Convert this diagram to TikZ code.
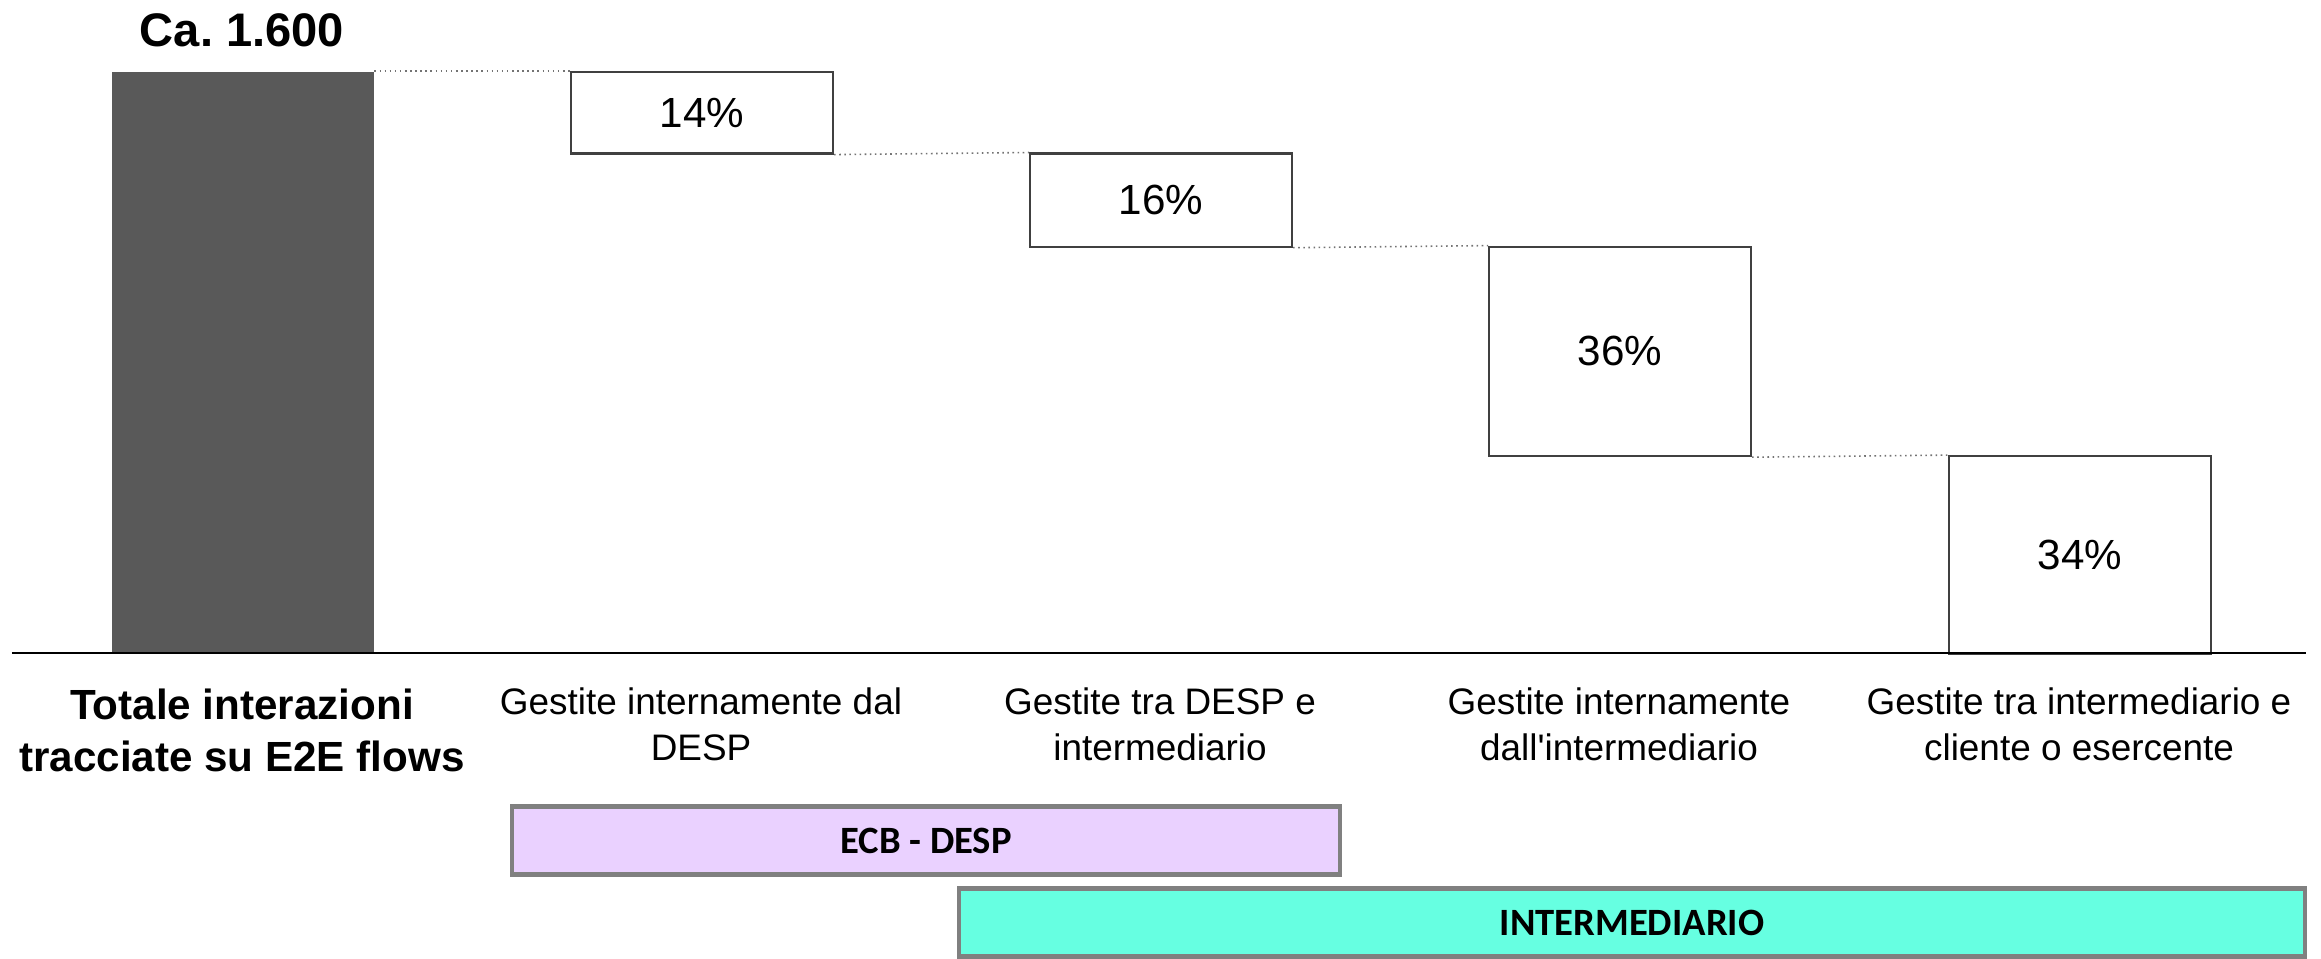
\documentclass[tikz,border=0pt]{standalone}
\usepackage{fontspec}
\setmainfont{Liberation Sans}[Ligatures=TeXOff]
\newfontfamily\carlito{Carlito}
\usepackage{tikz}
\usetikzlibrary{positioning}
\definecolor{barra}{HTML}{595959}
\definecolor{lilla}{HTML}{EAD1FF}
\definecolor{acqua}{HTML}{66FFE1}
\definecolor{bordo}{HTML}{808080}

\begin{document}
\begin{tikzpicture}[
	totale/.style={
		fill=barra,
		anchor=north west,
		minimum width=2.62cm,
		inner sep=0pt
	},
	quota/.style={
		draw=black!75,
		line width=0.6pt,
		anchor=north west,
		minimum width=2.62cm,
		inner sep=0pt,
		font=\fontsize{12}{14}\selectfont
	},
	guida/.style={
		densely dotted,
		draw=black!55,
		line width=0.45pt
	},
	etic/.style={
		align=center,
		anchor=north,
		inner sep=0pt,
		font=\fontsize{10.5}{13.1}\selectfont
	},
	fascia/.style={
		draw=bordo,
		line width=1.4pt,
		inner sep=0pt,
		minimum height=0.68cm,
		font=\carlito\bfseries\fontsize{11}{13}\selectfont
	}
	]
	\useasboundingbox (0,0) rectangle (23.21,-9.59);

	\node[totale, minimum height=5.82cm] at (1.11,-0.71) 
	(tot) {};
	\node[anchor=base, inner sep=0pt, font=\bfseries\fontsize{13.4}{16}\selectfont] at (2.42,-0.47) 
	(valore) {Ca.\ 1.600};

	\node[quota, minimum height=0.815cm] at (5.70,-0.71) 
	(q1) {14\%};
	\node[quota, minimum height=0.931cm] at (10.29,-1.525) 
	(q2) {16\%};
	\node[quota, minimum height=2.095cm] at (14.88,-2.456) 
	(q3) {36\%};
	\node[quota, minimum height=1.979cm] at (19.48,-4.551) 
	(q4) {34\%};

	\draw[guida] (tot.north east) -- (q1.north west);
	\draw[guida] (q1.south east) -- (q2.north west);
	\draw[guida] (q2.south east) -- (q3.north west);
	\draw[guida] (q3.south east) -- (q4.north west);

	\draw[line width=0.85pt] (0.12,-6.53) -- (23.06,-6.53);

	\node[etic, font=\bfseries\fontsize{12}{14.8}\selectfont] at (2.42,-6.88) 
	(e0) {Totale interazioni\\tracciate su E2E flows};
	\node[etic] at (7.01,-6.87) 
	(e1) {Gestite internamente dal\\DESP};
	\node[etic] at (11.60,-6.87) 
	(e2) {Gestite tra DESP e\\intermediario};
	\node[etic] at (16.19,-6.87) 
	(e3) {Gestite internamente\\dall'intermediario};
	\node[etic] at (20.79,-6.87) 
	(e4) {Gestite tra intermediario e\\cliente o esercente};

	\node[fascia, fill=lilla, minimum width=8.28cm] at (9.26,-8.405) 
	(ecb) {ECB - DESP};
	\node[fascia, fill=acqua, minimum width=13.46cm] at (16.32,-9.225) 
	(inter) {INTERMEDIARIO};

\end{tikzpicture}
\end{document}
